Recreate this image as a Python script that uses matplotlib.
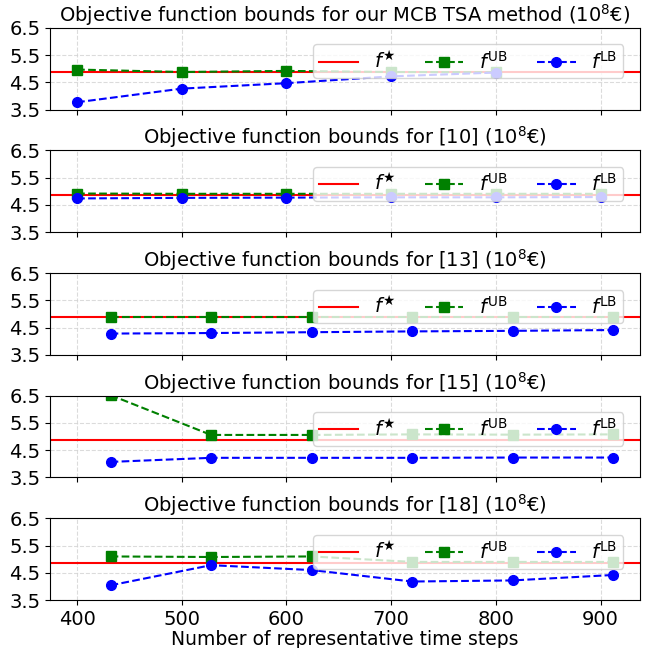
import matplotlib.pyplot as plt

# x positions (number of representative time steps)
steps_mcb = [400, 500, 600, 700, 800]
steps_10 = [400, 500, 600, 700, 800, 900]
steps_other = [432, 528, 624, 720, 816, 912]

f_star = 4.87

titles = [
    "Objective function bounds for our MCB TSA method ($10^8$€)",
    "Objective function bounds for [10] ($10^8$€)",
    "Objective function bounds for [13] ($10^8$€)",
    "Objective function bounds for [15] ($10^8$€)",
    "Objective function bounds for [18] ($10^8$€)",
]

ub_mcb = [4.97, 4.88, 4.92, 4.88, 4.87]
lb_mcb = [3.77, 4.27, 4.47, 4.72, 4.86]

ub_10 = [4.92, 4.91, 4.91, 4.91, 4.91, 4.91]
lb_10 = [4.74, 4.76, 4.77, 4.78, 4.78, 4.79]

ub_13 = [4.90, 4.90, 4.90, 4.90, 4.90, 4.90]
lb_13 = [4.28, 4.30, 4.33, 4.36, 4.38, 4.41]

ub_15 = [6.52, 5.06, 5.06, 5.08, 5.07, 5.08]
lb_15 = [4.07, 4.22, 4.22, 4.22, 4.23, 4.23]

ub_18 = [5.10, 5.08, 5.10, 4.90, 4.90, 4.90]
lb_18 = [4.04, 4.78, 4.60, 4.18, 4.22, 4.42]

panels = [
    (steps_mcb, ub_mcb, lb_mcb),
    (steps_10, ub_10, lb_10),
    (steps_other, ub_13, lb_13),
    (steps_other, ub_15, lb_15),
    (steps_other, ub_18, lb_18),
]

plt.rcParams["font.size"] = 14

fig, axes = plt.subplots(5, 1, figsize=(6.53, 6.48), dpi=100, sharex=True)
fig.subplots_adjust(left=0.077, right=0.98, top=0.957, bottom=0.074, hspace=0.5)

for ax, title, (x, ub, lb) in zip(axes, titles, panels):
    ax.axhline(f_star, color="red", lw=1.5, label=r"$f^{\bigstar}$")
    ax.plot(x, ub, "s--", color="green", lw=1.5, ms=7, label=r"$f^{\mathrm{UB}}$")
    ax.plot(x, lb, "o--", color="blue", lw=1.5, ms=7, label=r"$f^{\mathrm{LB}}$")
    ax.set_ylim(3.5, 6.5)
    ax.set_yticks([3.5, 4.5, 5.5, 6.5])
    ax.tick_params(labelsize=14)
    ax.set_title(title, fontsize=14, pad=2)
    ax.grid(True, linestyle="--", color="lightgray", alpha=0.8)
    ax.legend(loc="upper right", ncol=3, fontsize=14, columnspacing=1.5,
              borderpad=0.3, labelspacing=0.2, borderaxespad=0.85)

axes[-1].set_xticks([400, 500, 600, 700, 800, 900])
axes[-1].set_xlabel("Number of representative time steps", fontsize=13.5, labelpad=1)

fig.savefig("out.png", dpi=100)
